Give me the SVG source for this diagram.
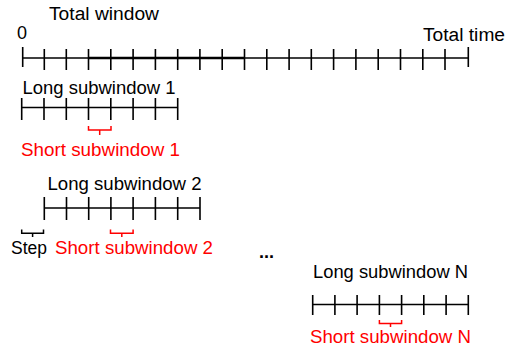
<svg xmlns="http://www.w3.org/2000/svg" width="508" height="351" viewBox="0 0 508 351">
<style>
.t{font-family:"Liberation Sans",Arial,sans-serif;font-size:18px;fill:#000}
.r{fill:#ff0000}
.ax{stroke:#000;stroke-width:1.6;fill:none}
.br{stroke:#000;stroke-width:1.5;fill:none}
.rb{stroke:#ff0000}
</style>
<rect width="508" height="351" fill="#fff"/>
<g id="total">
<text class="t" x="49" y="20" textLength="110" lengthAdjust="spacingAndGlyphs">Total window</text>
<text class="t" x="17" y="39">0</text>
<text class="t" x="423" y="41" textLength="82" lengthAdjust="spacingAndGlyphs">Total time</text>
<path class="ax" d="M22.7,58H468.3"/>
<path d="M88,58H244" stroke="#000" stroke-width="2.6"/>
<path class="ax" d="M22.7,47V67M44.3,49V70M66.3,49V70M88.5,49V70M110.8,49V70M133.1,49V70M155.4,49V70M177.7,49V70M199.9,49V70M222.2,49V70M244.5,49V70M266.8,49V70M289.1,49V70M311.3,49V70M333.6,49V70M355.9,49V70M378.2,49V70M400.5,49V70M422.8,49V70M445,49V70M468.3,47V67"/>
</g>
<g id="long1">
<text class="t" x="22.5" y="93.5" textLength="153" lengthAdjust="spacingAndGlyphs">Long subwindow 1</text>
<path class="ax" d="M21.7,107.5H177.7M21.7,98V120M44,98V120M66.3,98V120M88.5,98V120M110.8,98V120M133.1,98V120M155.4,98V120M177.7,98V120"/>
</g>
<g id="short1">
<path class="br rb" d="M88.5,126V130H111V126M99.7,130V135"/>
<text class="t r" x="21" y="156" textLength="159" lengthAdjust="spacingAndGlyphs">Short subwindow 1</text>
</g>
<g id="long2">
<text class="t" x="47.5" y="190" textLength="154" lengthAdjust="spacingAndGlyphs">Long subwindow 2</text>
<path class="ax" d="M44.3,208H200M44.3,197V220M66.5,197V220M88.7,197V220M110.9,197V220M133.1,197V220M155.4,197V220M177.7,197V220M200,197V220"/>
</g>
<g id="step">
<path class="br" d="M21.7,229.5V233.3H43.5V229.5M32.6,233.3V237"/>
<text class="t" x="11" y="253.5" textLength="36" lengthAdjust="spacingAndGlyphs">Step</text>
</g>
<g id="short2">
<path class="br rb" d="M110.5,229.5V233.3H133.1V229.5M121.8,233.3V237"/>
<text class="t r" x="55" y="253.5" textLength="158" lengthAdjust="spacingAndGlyphs">Short subwindow 2</text>
</g>
<g id="dots">
<text class="t" x="259" y="258" style="font-weight:bold">...</text>
</g>
<g id="longN">
<text class="t" x="313" y="277.5" textLength="155" lengthAdjust="spacingAndGlyphs">Long subwindow N</text>
<path class="ax" d="M312.7,304.5H468.3M312.7,295V315M334.9,295V315M357.1,295V315M379.4,295V315M401.6,295V315M423.8,295V315M446.1,295V315M468.3,295V315"/>
</g>
<g id="shortN">
<path class="br rb" d="M379.4,320V323.5H401.6V320M390.5,323.5V327"/>
<text class="t r" x="310" y="343" textLength="161" lengthAdjust="spacingAndGlyphs">Short subwindow N</text>
</g>
</svg>
